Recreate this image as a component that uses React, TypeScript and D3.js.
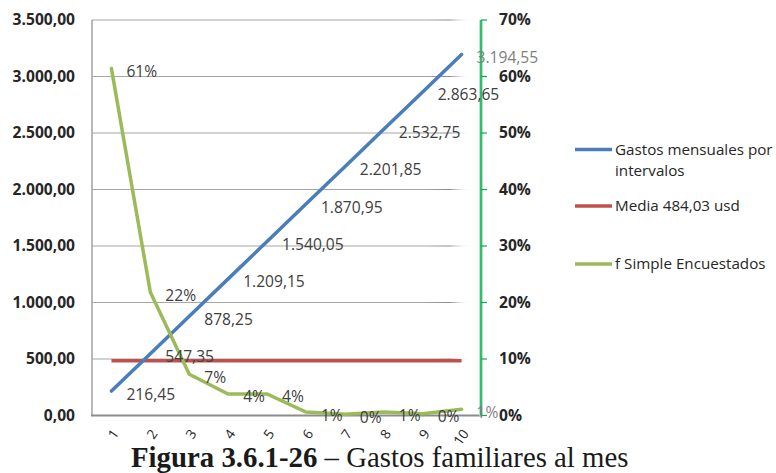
import React, { useEffect, useRef } from "react";
import * as d3 from "d3";

const categories = ["1", "2", "3", "4", "5", "6", "7", "8", "9", "10"];
const gastos = [216.45, 547.35, 878.25, 1209.15, 1540.05, 1870.95, 2201.85, 2532.75, 2863.65, 3194.55];
const media = [484.03, 484.03, 484.03, 484.03, 484.03, 484.03, 484.03, 484.03, 484.03, 484.03];
const fSimple = [61.4, 21.8, 7.3, 3.8, 3.8, 0.6, 0.2, 0.6, 0.3, 1.1];
const leftTicks = [0, 500, 1000, 1500, 2000, 2500, 3000, 3500];
const rightTicks = [0, 10, 20, 30, 40, 50, 60, 70];
const legendLabels = [["Gastos mensuales por", "intervalos"], ["Media 484,03 usd"], ["f Simple Encuestados"]];
const titleBold = "Figura 3.6.1-26";
const titleRest = " – Gastos familiares al mes";

const W = 776, H = 473;
const M = { left: 92, right: 481, top: 20, bottom: 415.5 };
const BLUE = "#4A7EBB", RED = "#C0504D", GREEN = "#9BBB59", AXG = "#00B050";
const FONT = "'Open Sans', 'DejaVu Sans', sans-serif";

const fmtNum = (v: number) => {
  const s = d3.format(",.2f")(v);
  return s.replace(/,/g, "#").replace(".", ",").replace(/#/g, ".");
};

export default function App() {
  const ref = useRef<SVGSVGElement>(null);
  useEffect(() => {
    const svg = d3.select(ref.current);
    svg.selectAll("*").remove();

    const x = d3.scaleBand<string>().domain(categories).range([M.left, M.right]);
    const cx = (c: string) => (x(c) as number) + x.bandwidth() / 2;
    const yL = d3.scaleLinear().domain([0, 3500]).range([M.bottom, M.top]);
    const yR = d3.scaleLinear().domain([0, 70]).range([M.bottom, M.top]);

    const defs = svg.append("defs");
    const grad = defs.append("linearGradient").attr("id", "gfade").attr("gradientUnits", "userSpaceOnUse")
      .attr("x1", M.left).attr("x2", 472).attr("y1", 0).attr("y2", 0);
    grad.append("stop").attr("offset", "0").attr("stop-color", "#A6A6A6");
    grad.append("stop").attr("offset", "0.88").attr("stop-color", "#A6A6A6");
    grad.append("stop").attr("offset", "0.94").attr("stop-color", "#8A8A8A");
    grad.append("stop").attr("offset", "1").attr("stop-color", "#ffffff").attr("stop-opacity", 0);

    // gridlines
    svg.append("g").selectAll("line").data(leftTicks.filter((t) => t > 0)).join("line")
      .attr("x1", M.left).attr("x2", 472)
      .attr("y1", (d) => yL(d)).attr("y2", (d) => yL(d))
      .attr("stroke", "url(#gfade)").attr("stroke-width", 1.2);

    // left axis
    svg.append("line").attr("x1", M.left).attr("x2", M.left).attr("y1", M.top).attr("y2", M.bottom)
      .attr("stroke", "#A0A0A0").attr("stroke-width", 1.5);
    svg.append("line").attr("x1", M.left - 1).attr("x2", 481).attr("y1", M.bottom).attr("y2", M.bottom)
      .attr("stroke", "#8C8C8C").attr("stroke-width", 2);

    svg.append("g").selectAll("text").data(leftTicks).join("text")
      .attr("x", 75).attr("y", (d) => yL(d)).attr("dy", "0.35em")
      .attr("text-anchor", "end").attr("font-family", FONT).attr("font-weight", "bold")
      .attr("font-size", 15.6).attr("fill", "#262626").text((d) => fmtNum(d));

    // right axis (green)
    svg.append("line").attr("x1", M.right).attr("x2", M.right).attr("y1", M.top).attr("y2", M.bottom)
      .attr("stroke", "#B8E6C8").attr("stroke-width", 4);
    svg.append("line").attr("x1", M.right).attr("x2", M.right).attr("y1", M.top).attr("y2", M.bottom)
      .attr("stroke", AXG).attr("stroke-width", 1.5);
    svg.append("g").selectAll("line").data(rightTicks).join("line")
      .attr("x1", M.right).attr("x2", M.right + 6).attr("y1", (d) => yR(d)).attr("y2", (d) => yR(d))
      .attr("stroke", AXG).attr("stroke-width", 1.2);
    svg.append("g").selectAll("text").data(rightTicks).join("text")
      .attr("x", 499).attr("y", (d) => yR(d)).attr("dy", "0.35em")
      .attr("font-family", FONT).attr("font-weight", "bold")
      .attr("font-size", 15.6).attr("fill", "#262626").text((d) => `${d}%`);

    // x tick labels
    svg.append("g").selectAll("text").data(categories).join("text")
      .attr("transform", (d) => `translate(${cx(d) + 4},${431}) rotate(-55)`)
      .attr("text-anchor", "end").attr("dy", "0.35em")
      .attr("font-family", FONT).attr("font-size", 13.5).attr("fill", "#262626").text((d) => d);

    const lineL = d3.line<number>().x((_, i) => cx(categories[i])).y((d) => yL(d));
    const lineR = d3.line<number>().x((_, i) => cx(categories[i])).y((d) => yR(d));

    svg.append("path").attr("d", lineL(media)).attr("fill", "none").attr("stroke", RED).attr("stroke-width", 3.5);
    svg.append("path").attr("d", lineL(gastos)).attr("fill", "none").attr("stroke", BLUE).attr("stroke-width", 3.5).attr("stroke-linecap", "round");
    svg.append("path").attr("d", lineR(fSimple)).attr("fill", "none").attr("stroke", GREEN).attr("stroke-width", 3.5).attr("stroke-linecap", "round");

    // data labels
    svg.append("g").selectAll("text").data(gastos).join("text")
      .attr("x", (_, i) => cx(categories[i]) + 15).attr("y", (d) => yL(d) + 3).attr("dy", "0.35em")
      .attr("font-family", FONT).attr("font-size", 15.6)
      .attr("fill", (_, i) => (i === gastos.length - 1 ? "#7F7F7F" : "#404040")).text((d) => fmtNum(d));
    svg.append("g").selectAll("text").data(fSimple).join("text")
      .attr("x", (_, i) => cx(categories[i]) + 15).attr("y", (d) => yR(d) + 3).attr("dy", "0.35em")
      .attr("font-family", FONT).attr("font-size", 15.6)
      .attr("fill", (_, i) => (i === fSimple.length - 1 ? "#7F7F7F" : "#404040")).text((d) => `${Math.round(d)}%`);

    // legend
    const legY = [149.5, 206, 264];
    const colors = [BLUE, RED, GREEN];
    legendLabels.forEach((lines, i) => {
      svg.append("line").attr("x1", 575).attr("x2", 612).attr("y1", legY[i]).attr("y2", legY[i])
        .attr("stroke", colors[i]).attr("stroke-width", 3.5);
      lines.forEach((t, j) => {
        svg.append("text").attr("x", 615).attr("y", legY[i] + j * 21.5).attr("dy", "0.35em")
          .attr("font-family", FONT).attr("font-size", 15.2).attr("fill", "#262626").text(t);
      });
    });

    // title
    const title = svg.append("text").attr("x", 131).attr("y", 467)
      .attr("font-family", "'Liberation Serif', 'Times New Roman', serif").attr("font-size", 28.8).attr("fill", "#1a1a1a");
    title.append("tspan").attr("font-weight", "bold").text(titleBold);
    title.append("tspan").text(titleRest);
  }, []);

  return (
    <div style={{ position: "fixed", left: 0, top: 0 }}>
      <svg ref={ref} width={W} height={H} style={{ display: "block", background: "#fff" }} />
    </div>
  );
}
